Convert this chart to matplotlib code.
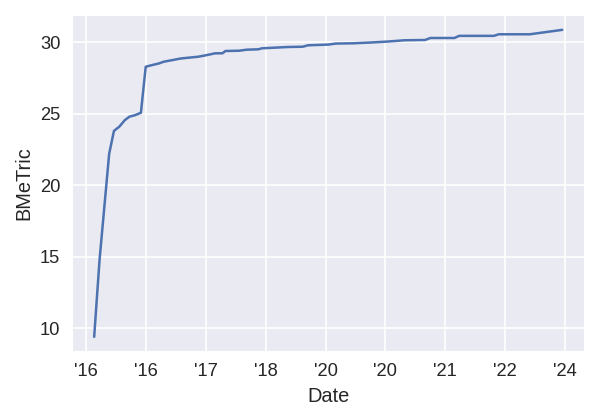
import matplotlib
matplotlib.use("Agg")
import matplotlib.pyplot as plt
import seaborn as sns

# x in tick-index units (0 = first tick)
x = [0.14, 0.23, 0.39, 0.47, 0.56, 0.65, 0.73, 0.82, 0.92, 1.0, 1.10, 1.22,
     1.30, 1.59, 1.875, 1.99, 2.16, 2.28, 2.33, 2.56, 2.68, 2.88, 2.94, 3.14,
     3.37, 3.62, 3.71, 4.05, 4.17, 4.46, 4.74, 5.03, 5.32, 5.66, 5.75, 6.15,
     6.23, 6.81, 6.89, 7.41, 7.95]
metric = [9.4, 14.8, 22.2, 23.8, 24.1, 24.55, 24.8, 24.9, 25.07, 28.29, 28.4,
          28.52, 28.64, 28.87, 28.99, 29.08, 29.23, 29.23, 29.39, 29.41, 29.48,
          29.51, 29.58, 29.62, 29.67, 29.69, 29.79, 29.84, 29.91, 29.93, 29.98,
          30.05, 30.14, 30.16, 30.3, 30.3, 30.45, 30.45, 30.56, 30.56, 30.87]
tick_labels = ["'16", "'16", "'17", "'18", "'20", "'20", "'21", "'22", "'24"]

sns.set_theme(style="darkgrid")
plt.rcParams['font.family'] = ['Liberation Sans', 'DejaVu Sans']
plt.rcParams.update({
    "xtick.major.size": 0, "ytick.major.size": 0,
    "xtick.major.pad": 7, "ytick.major.pad": 7,
})

fig, ax = plt.subplots(figsize=(5, 3.5), dpi=120)
ax.plot(x, metric, color="#4C72B0", linewidth=1.5)

ax.set_xticks(range(len(tick_labels)))
ax.set_xticklabels(tick_labels)
ax.set_xlim(-0.23, 8.33)
ax.set_ylim(8.37, 31.9)
ax.set_yticks([10, 15, 20, 25, 30])
ax.set_xlabel("Date")
ax.set_ylabel("BMeTric")

fig.subplots_adjust(left=0.12, right=0.975, top=0.964, bottom=0.163)
fig.savefig("out.png")
